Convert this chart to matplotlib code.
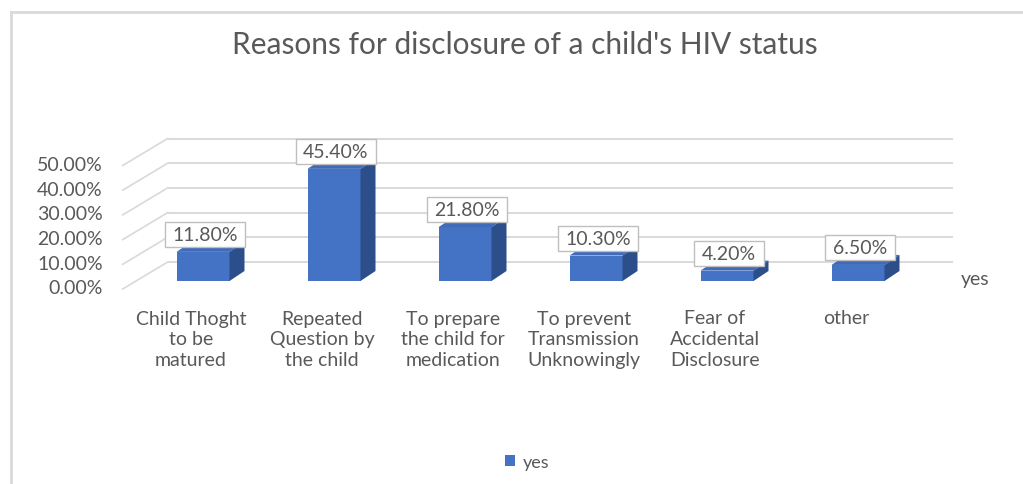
import matplotlib
matplotlib.use("Agg")
import matplotlib.pyplot as plt
from matplotlib.patches import Polygon, Patch, Rectangle
from matplotlib.lines import Line2D

# ---------------- data ----------------
categories = [
    "Child Thoght\nto be\nmatured",
    "Repeated\nQuestion by\nthe child",
    "To prepare\nthe child for\nmedication",
    "To prevent\nTransmission\nUnknowingly",
    "Fear of\nAccidental\nDisclosure",
    "other",
]
values = [11.8, 45.4, 21.8, 10.3, 4.2, 6.5]
value_labels = ["11.80%", "45.40%", "21.80%", "10.30%", "4.20%", "6.50%"]
y_ticks = [0, 10, 20, 30, 40, 50]
y_tick_labels = ["0.00%", "10.00%", "20.00%", "30.00%", "40.00%", "50.00%"]
series_name = "yes"
title = "Reasons for disclosure of a child's HIV status"

# ---------------- style ----------------
FONT = ["Lato", "DejaVu Sans"]
plt.rcParams["font.family"] = FONT
TXT = "#595959"
GRID = "#d9d9d9"
FRONT = "#4472C4"
TOP = "#3F6BBA"
SIDE = "#2C4E8A"
FS = 14

W, H, DPI = 1023, 485, 100
fig = plt.figure(figsize=(W / DPI, H / DPI), dpi=DPI)
ax = fig.add_axes([0, 0, 1, 1])
ax.set_axis_off()

# layout: pixel scale of one category and one percent on the bar front plane
PX_CAT = 131.0
PX_PCT = 2.47
X0_PX = 203.0      # first bar centre (pixels from left)
Y0_PX = 282.0      # bar-front zero line (pixels from top)
ax.set_xlim(-X0_PX / PX_CAT, (W - X0_PX) / PX_CAT)
ax.set_ylim((Y0_PX - H) / PX_PCT, Y0_PX / PX_PCT)

def dx(px):
    return px / PX_CAT

def dy(px):
    return px / PX_PCT

# back wall (gridlines) and left-side diagonals
back_dx, back_dy = 31.7, 19.0     # bar front plane -> back wall
front_dx, front_dy = -13.3, -8.0  # bar front plane -> front plane
wall_left = dx(136 - X0_PX)
wall_right = dx(953 - X0_PX)
for t, lab in zip(y_ticks, y_tick_labels):
    yb = t + dy(back_dy)
    ax.plot([wall_left + dx(back_dx), wall_right], [yb, yb],
            color=GRID, lw=1.4, solid_capstyle="butt", zorder=1)
    ax.plot([wall_left + dx(back_dx), wall_left + dx(front_dx)],
            [yb, t + dy(front_dy)], color=GRID, lw=1.2, zorder=1)
    ax.text(wall_left + dx(front_dx) - dx(20), t + dy(front_dy) + dy(1),
            lab, ha="right", va="center", fontsize=FS, color=TXT)

# bars (pseudo 3-D)
bw = dx(53)
ddx, ddy = dx(15), dy(10)
for i, v in enumerate(values):
    l, r = i - bw / 2, i + bw / 2
    ax.add_patch(Polygon([(l, 0), (r, 0), (r, v), (l, v)], closed=True,
                         facecolor=FRONT, edgecolor="none", zorder=3))
    ax.add_patch(Polygon([(l, v), (r, v), (r + ddx, v + ddy), (l + ddx, v + ddy)],
                         closed=True, facecolor=TOP, edgecolor="none", zorder=3))
    ax.add_patch(Polygon([(r, 0), (r + ddx, ddy), (r + ddx, v + ddy), (r, v)],
                         closed=True, facecolor=SIDE, edgecolor="none", zorder=3))
    # data label with box
    cx, cy = i + dx(2), v + dy(17.5)
    bwid = dx(80 if len(value_labels[i]) > 5 else 70)
    ax.add_patch(Rectangle((cx - bwid / 2, cy - dy(12.5)), bwid, dy(25),
                           facecolor="white", edgecolor="#bfbfbf", lw=1.0, zorder=4))
    ax.text(cx, cy, value_labels[i], ha="center", va="center",
            fontsize=FS, color=TXT, zorder=5)
    ax.text(i - dx(12), dy(-28.5), categories[i], ha="center", va="top",
            fontsize=FS, color=TXT, linespacing=1.28)

# series (depth) axis label
ax.text(dx(975 - X0_PX), dy(Y0_PX - 279), series_name, ha="center", va="center",
        fontsize=FS, color=TXT)

# title
fig.text(525 / W, 1 - 45 / H, title, ha="center", va="center",
         fontsize=21.5, color=TXT)

# legend
fig.legend(handles=[Patch(facecolor=FRONT, edgecolor="none", label=series_name)],
           loc="center", bbox_to_anchor=(527 / W, 1 - 463 / H),
           frameon=False, fontsize=13, handlelength=0.6, handleheight=0.6,
           handletextpad=0.4, labelcolor=TXT)

# outer border (left and top only visible)
fig.add_artist(Line2D([11 / W, 11 / W], [0, 1 - 13 / H], color=GRID, lw=2,
                      transform=fig.transFigure))
fig.add_artist(Line2D([11 / W, 1], [1 - 13 / H, 1 - 13 / H], color=GRID, lw=2,
                      transform=fig.transFigure))

fig.savefig("out.png", dpi=DPI, facecolor="white")
